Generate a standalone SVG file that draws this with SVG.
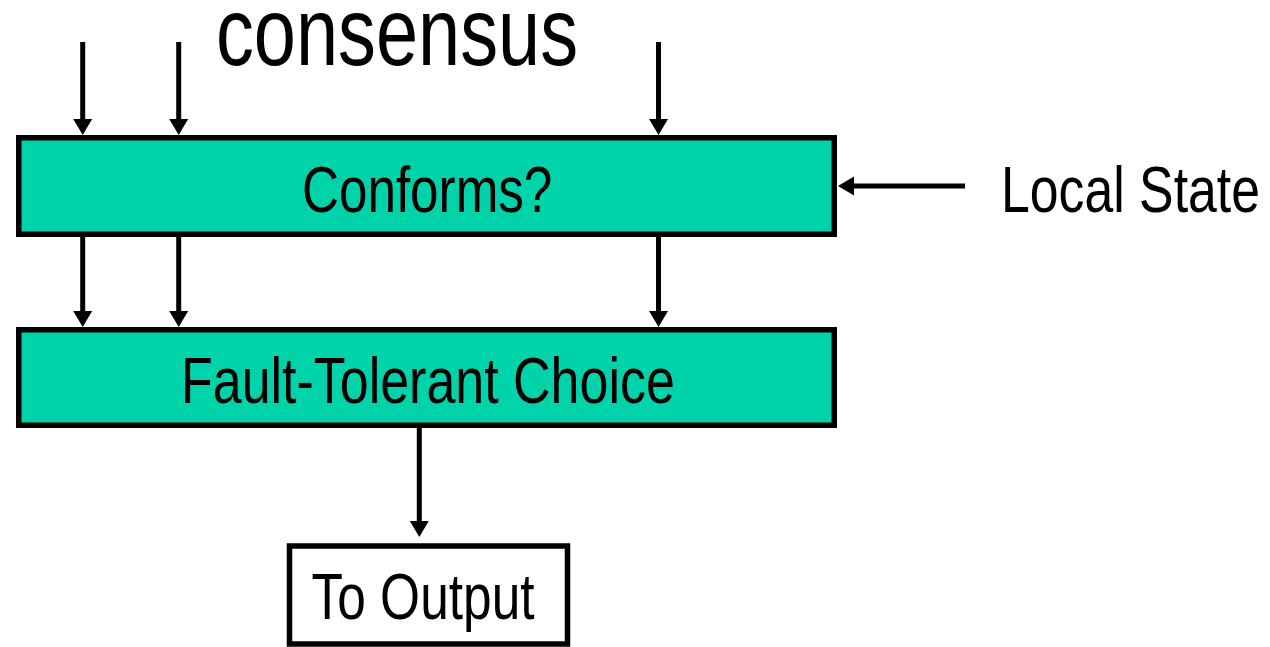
<svg xmlns="http://www.w3.org/2000/svg" width="1270" height="647" viewBox="0 0 1270 647">
  <style>
    .box { fill: #00d2aa; stroke: #000; stroke-width: 5.5; }
    .plain { fill: #fff; stroke: #000; stroke-width: 5.5; }
    .lbl { font-family: "Liberation Sans", Arial, sans-serif; font-size: 64px; fill: #000; }
    .conn { stroke: #000; stroke-width: 5; fill: none; }
    .head { fill: #000; }
  </style>
  <defs>
    <path id="hd" class="head" d="M-9.5,-16 L9.5,-16 L0,0 Z"/>
  </defs>
  <rect width="1270" height="647" fill="#fff"/>
  <text id="title" class="lbl" transform="translate(216 65) scale(0.789 1)" style="font-size:96px">consensus</text>
  <g id="conforms">
    <rect class="box" x="18.75" y="137.75" width="815.5" height="96.5"/>
    <text class="lbl" transform="translate(302 211.5) scale(0.8 1)">Conforms?</text>
  </g>
  <g id="choice">
    <rect class="box" x="18.75" y="329.75" width="815.5" height="95.5"/>
    <text class="lbl" transform="translate(181 403) scale(0.812 1)">Fault-Tolerant Choice</text>
  </g>
  <g id="output">
    <rect class="plain" x="289.5" y="546" width="278" height="98"/>
    <text class="lbl" transform="translate(311.5 618.5) scale(0.804 1)">To Output</text>
  </g>
  <g id="localstate">
    <text class="lbl" transform="translate(1001 211.5) scale(0.809 1)">Local State</text>
  </g>
  <g id="connectors">
    <line class="conn" x1="82.7" y1="42" x2="82.7" y2="122"/>
    <use href="#hd" x="82.7" y="135"/>
    <line class="conn" x1="178.7" y1="42" x2="178.7" y2="122"/>
    <use href="#hd" x="178.7" y="135"/>
    <line class="conn" x1="658.5" y1="42" x2="658.5" y2="122"/>
    <use href="#hd" x="658.5" y="135"/>
    <line class="conn" x1="82.7" y1="237" x2="82.7" y2="314"/>
    <use href="#hd" x="82.7" y="327"/>
    <line class="conn" x1="178.7" y1="237" x2="178.7" y2="314"/>
    <use href="#hd" x="178.7" y="327"/>
    <line class="conn" x1="658.5" y1="237" x2="658.5" y2="314"/>
    <use href="#hd" x="658.5" y="327"/>
    <line class="conn" x1="419.3" y1="428" x2="419.3" y2="524"/>
    <use href="#hd" x="419.3" y="537"/>
    <line class="conn" x1="965" y1="186" x2="851" y2="186"/>
    <use href="#hd" transform="translate(838,186) rotate(90)"/>
  </g>
</svg>
